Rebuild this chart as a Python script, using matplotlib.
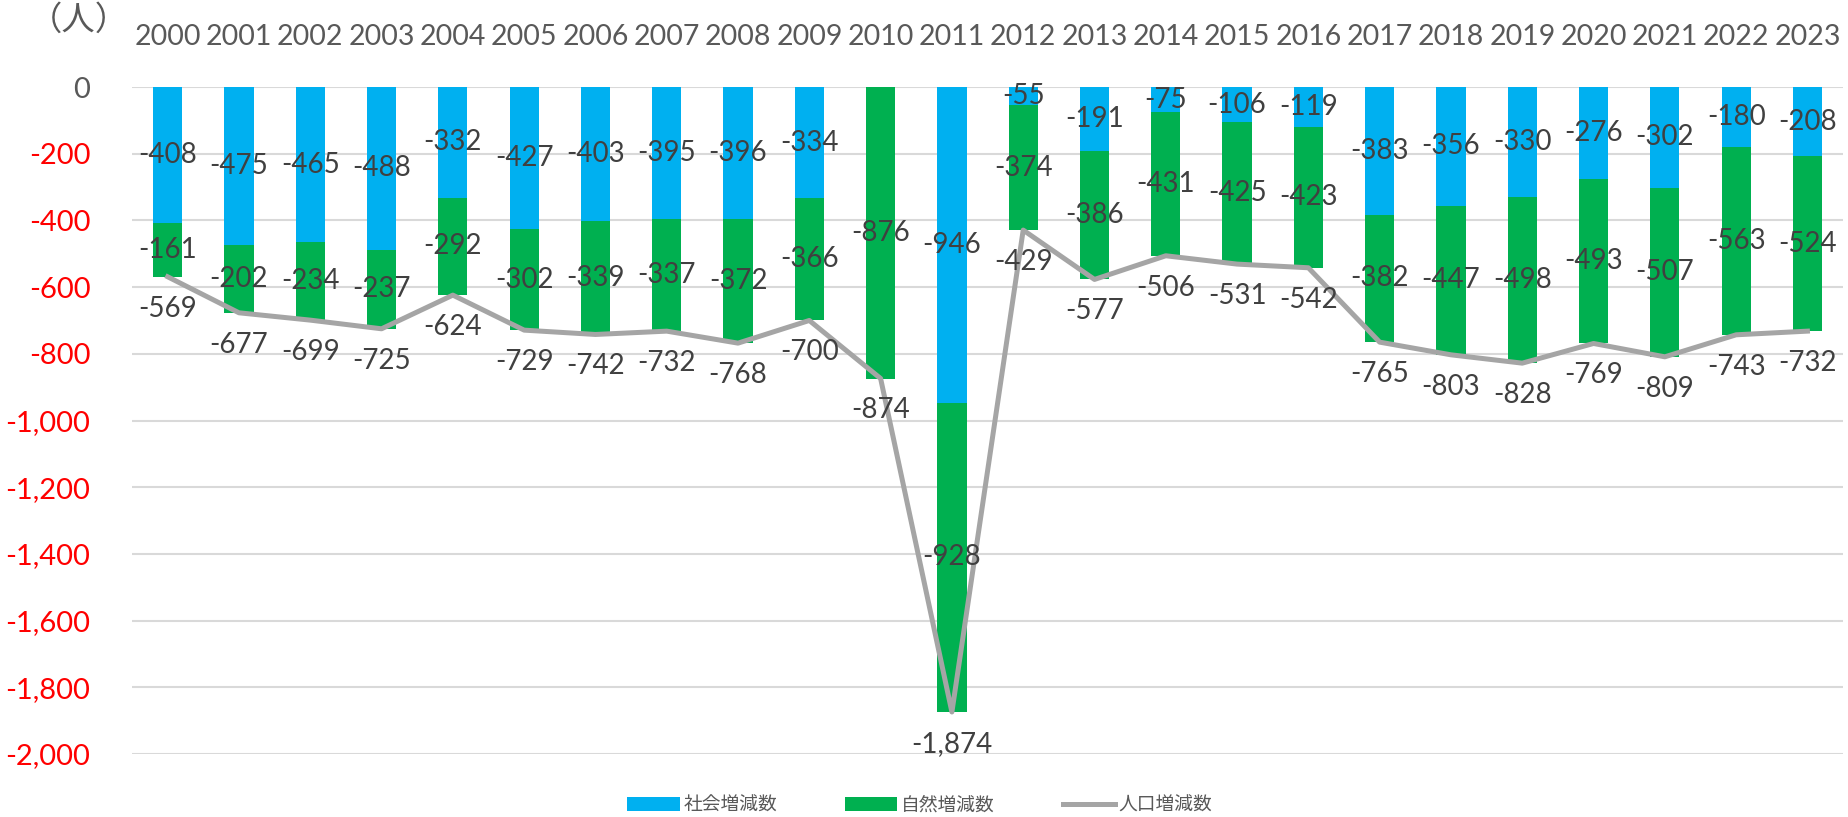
import matplotlib.pyplot as plt
import numpy as np
from matplotlib.ticker import FuncFormatter

plt.rcParams['font.family'] = ['Lato', 'Noto Sans CJK JP', 'DejaVu Sans']

years = [str(y) for y in range(2000, 2024)]
social = [-408, -475, -465, -488, -332, -427, -403, -395, -396, -334, 2, -946,
          -55, -191, -75, -106, -119, -383, -356, -330, -276, -302, -180, -208]
natural = [-161, -202, -234, -237, -292, -302, -339, -337, -372, -366, -876, -928,
           -374, -386, -431, -425, -423, -382, -447, -498, -493, -507, -563, -524]
total = [-569, -677, -699, -725, -624, -729, -742, -732, -768, -700, -874, -1874,
         -429, -577, -506, -531, -542, -765, -803, -828, -769, -809, -743, -732]

blue = '#00B0F0'
green = '#00B050'
gray = '#A5A5A5'
lab = '#404040'

fig = plt.figure(figsize=(18.49, 8.17), dpi=100)
ax = fig.add_axes([0.0714, 0.0771, 0.9254, 0.8164])

x = np.arange(len(years))
w = 0.41
soc = np.array(social)
nat = np.array(natural)
soc_neg = np.minimum(soc, 0)
b1 = ax.bar(x, soc, width=w, color=blue, zorder=2)
b2 = ax.bar(x, nat, width=w, bottom=soc_neg, color=green, zorder=2)
l1, = ax.plot(x, total, color=gray, lw=3.6, zorder=3)

fs = 20
for i in range(len(x)):
    if soc[i] < 0:
        ax.text(x[i], soc[i] / 2, f'{soc[i]:,}', ha='center', va='center',
                fontsize=fs, color=lab, zorder=4)
    ax.text(x[i], soc_neg[i] + nat[i] / 2, f'{nat[i]:,}', ha='center', va='center',
            fontsize=fs, color=lab, zorder=4)
    ax.annotate(f'{total[i]:,}', (x[i], total[i]), xytext=(0, -32),
                textcoords='offset pixels', ha='center', va='center',
                fontsize=fs, color=lab, zorder=4)

ax.set_ylim(-2000, 0)
ax.set_xlim(-0.5, len(x) - 0.5)
ax.set_yticks(np.arange(-2000, 1, 200))
ax.yaxis.set_major_formatter(FuncFormatter(lambda v, p: f'{int(v):,}'))
for t in ax.get_yticklabels():
    t.set_color('red')
ax.get_yticklabels()[-1].set_color('#595959')
ax.tick_params(axis='y', length=0, pad=30, labelsize=21)
ax.xaxis.tick_top()
ax.set_xticks(x)
ax.set_xticklabels(years)
ax.tick_params(axis='x', length=0, pad=27, labelsize=20.5, labelcolor='#595959')
ax.grid(axis='y', color='#D9D9D9', lw=1.5, zorder=0)
for s in ax.spines.values():
    s.set_visible(False)

fig.text(79 / 1849, 1 - 20 / 817, '（人）', ha='center', va='center',
         fontsize=24, color='#595959')

fig.legend([b1, b2, l1], ['社会増減数', '自然増減数', '人口増減数'],
           loc='center', bbox_to_anchor=(920 / 1849, 1 - 805 / 817), ncol=3,
           frameon=False, fontsize=13.5, labelcolor='#595959',
           handlelength=2.8, handleheight=0.8, columnspacing=3.6, handletextpad=0.2)

fig.savefig('out.png', dpi=100)
